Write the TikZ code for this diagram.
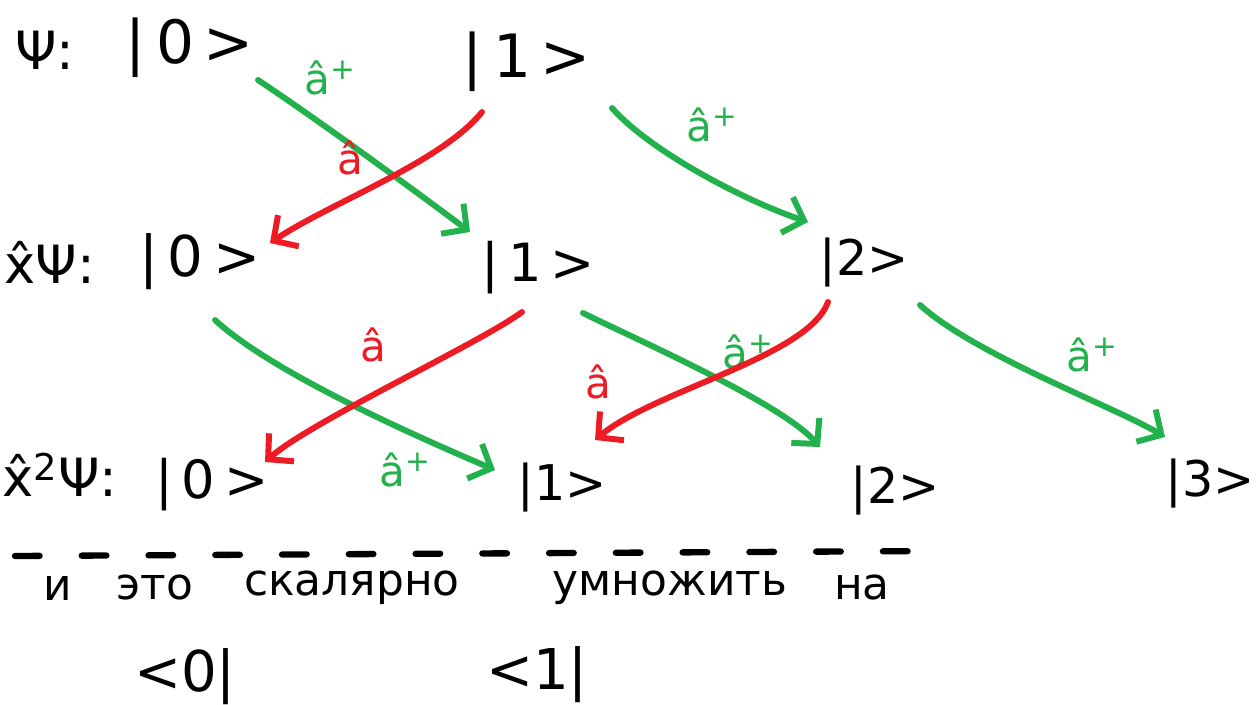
\documentclass[tikz,border=0pt]{standalone}
\usepackage{fontspec}
\setmainfont{DejaVu Sans}
\usetikzlibrary{arrows.meta,calc}

\definecolor{opgreen}{RGB}{34,177,76}
\definecolor{opred}{RGB}{237,28,36}

\begin{document}
\begin{tikzpicture}[
  x=0.02cm, y=-0.02cm,
  ketnode/.style={inner sep=0pt, font=\fontsize{#1}{#1}\selectfont},
  rowlabel/.style={inner sep=0pt, font=\fontsize{30}{30}\selectfont},
  createarrow/.style={-{Straight Barb[length=3.6mm,width=7.5mm]}, line width=3.4pt,
    line cap=round, line join=round, draw=opgreen},
  destroyarrow/.style={createarrow, draw=opred},
  oplabel/.style={inner sep=0pt, font=\fontsize{24}{24}\selectfont},
  cut/.style={line width=3.6pt, line cap=round, dash pattern=on 14pt off 24pt},
  words/.style={inner sep=0pt, font=\fontsize{25}{25}\selectfont}
]
\useasboundingbox (0,0) rectangle (1259,704);

% Coordinates are in pixels of the sketch, y pointing down.

% Row labels.
\node[rowlabel] (lab0) at (45,50) {Ψ:};
\node[rowlabel] (lab1) at (50,262) {\^{x}Ψ:};
\node[rowlabel] (lab2) at (60,475) {\^{x}\textsuperscript{2}Ψ:};

% Kets.
\node[ketnode=34] (k00) at (190,48) {|\,0\,>};
\node[ketnode=34] (k01) at (527,62) {|\,1\,>};
\node[ketnode=32] (k10) at (200,262) {|\,0\,>};
\node[ketnode=30] (k11) at (538,268) {|\,1\,>};
\node[ketnode=28] (k12) at (864,262) {|2>};
\node[ketnode=30] (k20) at (212,485) {|\,0\,>};
\node[ketnode=28] (k21) at (562,487) {|1>};
\node[ketnode=28] (k22) at (895,490) {|2>};
\node[ketnode=28] (k23) at (1210,483) {|3>};

% Raising operator.
\draw[createarrow] ($(k00)+(68,32)$) .. controls +(60,40) and +(-60,-45) .. ($(k11)+(-68,-36)$);
\draw[createarrow] ($(k01)+(85,46)$) .. controls +(40,45) and +(-60,-20) .. ($(k12)+(-56,-40)$);
\draw[createarrow] ($(k10)+(15,58)$) .. controls +(60,55) and +(-70,-30) .. ($(k21)+(-67,-17)$);
\draw[createarrow] ($(k11)+(45,45)$) .. controls +(50,25) and +(-40,-45) .. ($(k22)+(-75,-43)$);
\draw[createarrow] ($(k12)+(56,43)$) .. controls +(55,50) and +(-50,-30) .. ($(k23)+(-45,-46)$);

\node[oplabel, text=opgreen] (op1) at (330,78) {\^{a}\textsuperscript{+}};
\node[oplabel, text=opgreen] (op2) at (712,125) {\^{a}\textsuperscript{+}};
\node[oplabel, text=opgreen] (op3) at (405,470) {\^{a}\textsuperscript{+}};
\node[oplabel, text=opgreen] (op4) at (748,352) {\^{a}\textsuperscript{+}};
\node[oplabel, text=opgreen] (op5) at (1092,355) {\^{a}\textsuperscript{+}};

% Lowering operator.
\draw[destroyarrow] ($(k01)+(-45,50)$) .. controls +(-40,50) and +(60,-40) .. ($(k10)+(70,-19)$);
\draw[destroyarrow] ($(k11)+(-16,44)$) .. controls +(-40,30) and +(45,-40) .. ($(k20)+(53,-23)$);
\draw[destroyarrow] ($(k12)+(-36,40)$) .. controls +(-20,55) and +(60,-50) .. ($(k21)+(33,-47)$);

\node[oplabel, text=opred] (op6) at (350,158) {\^{a}};
\node[oplabel, text=opred] (op7) at (373,345) {\^{a}};
\node[oplabel, text=opred] (op8) at (598,382) {\^{a}};

% Scalar product note.
\draw[cut] (15,556) -- (935,551);
\foreach \w/\xw in {и/58, это/155, скалярно/352, умножить/670, на/862}
  \node[words] (w-\xw) at (\xw,588) {\w};

\node[ketnode=32] (b0) at (185,677) {<0|};
\node[ketnode=32] (b1) at (537,675) {<1|};

\end{tikzpicture}
\end{document}
